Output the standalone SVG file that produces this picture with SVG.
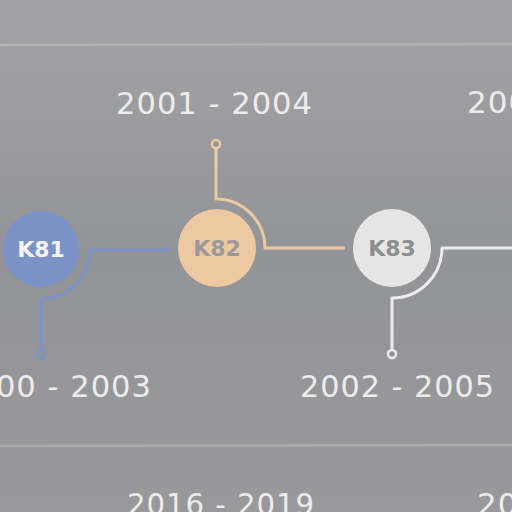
<svg xmlns="http://www.w3.org/2000/svg" width="512" height="512" viewBox="0 0 512 512">
  <defs>
    <linearGradient id="bg" x1="0" y1="0" x2="0" y2="1">
      <stop offset="0" stop-color="#a3a3a5"/>
      <stop offset="0.5" stop-color="#939498"/>
      <stop offset="1" stop-color="#99999b"/>
    </linearGradient>
    <style>
      .yr { font-family: "DejaVu Sans", "Liberation Sans", sans-serif; font-size: 31px; fill: #ececec; letter-spacing: 1px; }
      .lbl { font-family: "DejaVu Sans", "Liberation Sans", sans-serif; font-size: 22px; font-weight: bold; text-anchor: middle; dominant-baseline: central; }
      .rule { stroke-width: 2.5; fill: none; }
      .conn { fill: none; stroke-width: 3; stroke-linejoin: round; }
      .dot { fill: #949599; stroke-width: 2.5; }
    </style>
  </defs>
  <rect width="512" height="512" fill="url(#bg)"/>
  <line class="rule" x1="0" y1="45" x2="512" y2="44" stroke="#b3b3b4"/>
  <line class="rule" x1="0" y1="446" x2="512" y2="445" stroke="#acacad"/>

  <g id="connectors">
    <path class="conn" stroke="#7b93c6" d="M170 250 H90 A49 49 0 0 1 41 299 V350"/>
    <circle class="dot" stroke="#7b93c6" cx="41" cy="354" r="4"/>
    <path class="conn" stroke="#ecc9a0" d="M216 148 V199 A49 49 0 0 1 265 248 H345"/>
    <circle class="dot" stroke="#ecc9a0" cx="216" cy="144" r="4"/>
    <path class="conn" stroke="#ececec" d="M512 248 H442 A50 50 0 0 1 392 298 V350"/>
    <circle class="dot" stroke="#ececec" cx="392" cy="354" r="4"/>
  </g>

  <g id="K81">
    <circle cx="41" cy="249" r="38" fill="#7b93c6"/>
    <text class="lbl" x="41" y="249" fill="#f4f4f4">K81</text>
  </g>
  <g id="K82">
    <circle cx="217" cy="248" r="39" fill="#ecc9a0"/>
    <text class="lbl" x="217" y="248" fill="#9a9a9c">K82</text>
  </g>
  <g id="K83">
    <circle cx="392" cy="248" r="39" fill="#e6e6e6"/>
    <text class="lbl" x="392" y="248" fill="#8e8e90">K83</text>
  </g>

  <g id="labels">
    <text class="yr" x="116" y="114" textLength="197" lengthAdjust="spacingAndGlyphs">2001 - 2004</text>
    <text class="yr" x="467" y="113">200</text>
    <text class="yr" x="-45" y="397" textLength="197" lengthAdjust="spacingAndGlyphs">2000 - 2003</text>
    <text class="yr" x="300" y="397" textLength="195" lengthAdjust="spacingAndGlyphs">2002 - 2005</text>
    <text class="yr" x="127" y="515" textLength="188" lengthAdjust="spacingAndGlyphs">2016 - 2019</text>
    <text class="yr" x="477" y="515">20</text>
  </g>
</svg>
